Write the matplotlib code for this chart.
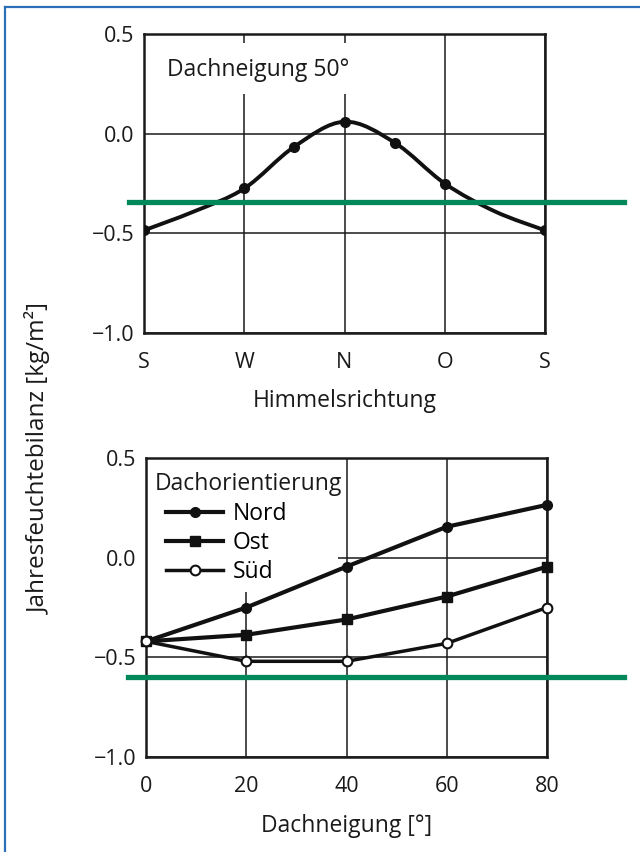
import numpy as np
import matplotlib
matplotlib.use("Agg")
import matplotlib.pyplot as plt
from matplotlib.path import Path
from matplotlib.patches import PathPatch, Rectangle
from matplotlib.lines import Line2D

plt.rcParams['font.family'] = ['Open Sans', 'DejaVu Sans']
plt.rcParams['axes.unicode_minus'] = True

# ---------------- data ----------------
# top chart: annual moisture balance vs orientation (roof pitch 50°)
dir_labels = ["S", "W", "N", "O", "S"]
dir_pos = [0, 1, 2, 3, 4]
top_x = [0, 0.5, 1, 1.5, 2, 2.5, 3, 3.5, 4]
top_y = [-0.485, -0.39, -0.275, -0.065, 0.06, -0.045, -0.25, -0.39, -0.485]
top_marker = [True, False, True, True, True, True, True, False, True]
top_ref = -0.343

# bottom chart: balance vs roof pitch
pitch = [0, 20, 40, 60, 80]
nord = [-0.42, -0.25, -0.045, 0.155, 0.265]
ost = [-0.42, -0.387, -0.31, -0.195, -0.045]
sued = [-0.42, -0.52, -0.52, -0.43, -0.25]
bottom_ref = -0.60

yticks = [-1.0, -0.5, 0.0, 0.5]
ytick_labels = ["\u22121.0", "\u22120.5", "0.0", "0.5"]

GREEN = "#00875a"
BLUE = "#2a6fb8"
TEXT = "#1a1a1a"
FS_TICK = 15.5
FS_LABEL = 16.5
FS_IN = 16.5


def smooth_path(xs, ys):
    pts = np.column_stack([xs, ys]).astype(float)
    n = len(pts)
    verts = [pts[0]]
    codes = [Path.MOVETO]
    for i in range(n - 1):
        p0 = pts[i - 1] if i > 0 else pts[i]
        p1 = pts[i]
        p2 = pts[i + 1]
        p3 = pts[i + 2] if i + 2 < n else pts[i + 1]
        c1 = p1 + (p2 - p0) / 6.0
        c2 = p2 - (p3 - p1) / 6.0
        verts += [c1, c2, p2]
        codes += [Path.CURVE4] * 3
    return Path(verts, codes)


fig = plt.figure(figsize=(6.4, 8.52), dpi=100)

W, H = 640.0, 852.0


def style_axes(ax):
    for s in ax.spines.values():
        s.set_linewidth(1.8)
        s.set_color(TEXT)
    ax.tick_params(length=0, labelsize=FS_TICK, colors=TEXT)
    ax.tick_params(axis="x", pad=14)
    ax.tick_params(axis="y", pad=7)
    ax.grid(True, color=TEXT, linewidth=1.1)
    ax.set_axisbelow(True)
    ax.set_ylim(-1.0, 0.5)
    ax.set_yticks(yticks)
    ax.set_yticklabels(ytick_labels)


# ---------- top axes ----------
ax1 = fig.add_axes([144 / W, 1 - 333 / H, 401 / W, 299 / H])
style_axes(ax1)
ax1.set_xlim(0, 4)
ax1.set_xticks(dir_pos)
ax1.set_xticklabels(dir_labels)
ax1.set_xlabel("Himmelsrichtung", fontsize=FS_LABEL, labelpad=11, color=TEXT)

ax1.add_patch(Rectangle((0.02, 0.80), 0.50, 0.17, transform=ax1.transAxes,
                        facecolor="white", edgecolor="none", zorder=1))
ax1.text(0.057, 0.88, "Dachneigung 50°", transform=ax1.transAxes,
         fontsize=FS_IN, va="center", ha="left", color=TEXT, zorder=3)

ax1.add_patch(PathPatch(smooth_path(top_x, top_y), facecolor="none",
                        edgecolor="#111111", linewidth=2.8, zorder=3,
                        capstyle="round"))
mx = [x for x, m in zip(top_x, top_marker) if m]
my = [y for y, m in zip(top_y, top_marker) if m]
ax1.plot(mx, my, "o", color="#111111", markersize=7, zorder=4)
ax1.axhline(top_ref, xmin=-0.038, xmax=1.198, color=GREEN, linewidth=3.8,
            clip_on=False, zorder=5)

# ---------- bottom axes ----------
ax2 = fig.add_axes([146 / W, 1 - 757 / H, 401 / W, 299 / H])
style_axes(ax2)
ax2.set_xlim(0, 80)
ax2.set_xticks(pitch)
ax2.set_xticklabels([str(p) for p in pitch])
ax2.set_xlabel("Dachneigung [°]", fontsize=FS_LABEL, labelpad=12, color=TEXT)

ax2.add_patch(Rectangle((0, 0.552), 0.479, 0.448, transform=ax2.transAxes,
                        facecolor="white", edgecolor="none", zorder=1))

ax2.plot(pitch, nord, "-o", color="#111111", linewidth=3.0, markersize=7,
         label="Nord", zorder=4, clip_on=False)
ax2.plot(pitch, ost, "-s", color="#111111", linewidth=3.0, markersize=7,
         label="Ost", zorder=4, clip_on=False)
ax2.plot(pitch, sued, "-o", color="#111111", linewidth=2.5, markersize=7,
         markerfacecolor="white", markeredgewidth=1.5, label="Süd", zorder=4,
         clip_on=False)
ax2.axhline(bottom_ref, xmin=-0.045, xmax=1.192, color=GREEN, linewidth=3.8,
            clip_on=False, zorder=5)

ax2.text((155 - 146) / 401, (757 - 484) / 299, "Dachorientierung",
         transform=ax2.transAxes, fontsize=FS_IN, va="center", ha="left",
         color=TEXT, zorder=6)
leg = ax2.legend(loc="upper left", bbox_to_anchor=((166 - 146) / 401,
                                                   (757 - 502) / 299),
                 frameon=False, fontsize=FS_IN,
                 handlelength=2.5, handletextpad=0.4, labelspacing=0.22,
                 borderaxespad=0.0, borderpad=0.0)
leg.set_zorder(6)

# ---------- shared y label ----------
fig.text(39 / W, 1 - 458 / H, "Jahresfeuchtebilanz [kg/m²]", rotation=90,
         fontsize=17.5, va="center", ha="center", color=TEXT)

# ---------- blue frame ----------
fig.add_artist(Line2D([5 / W, 5 / W], [0, 1 - 6.5 / H], color=BLUE,
                      linewidth=1.6, transform=fig.transFigure))
fig.add_artist(Line2D([5 / W, 1.0], [1 - 6.5 / H, 1 - 6.5 / H], color=BLUE,
                      linewidth=1.6, transform=fig.transFigure))

fig.savefig("out.png", dpi=100)
